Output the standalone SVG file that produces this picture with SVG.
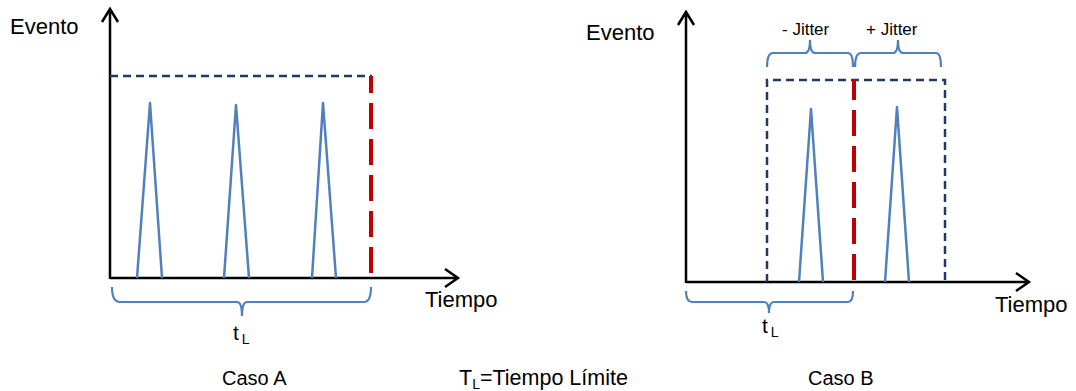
<svg xmlns="http://www.w3.org/2000/svg" width="1076" height="391" viewBox="0 0 1076 391">
  <style>
    .axis { fill: none; stroke: #000; stroke-width: 2.5; stroke-linejoin: miter; }
    .limit { fill: none; stroke: #1F3864; stroke-width: 2.5; stroke-dasharray: 8 5; }
    .deadline { fill: none; stroke: #C00000; stroke-width: 4; stroke-dasharray: 26 10; }
    .pulse { fill: none; stroke: #4F81BD; stroke-width: 2.5; stroke-linejoin: round; }
    .brace { fill: none; stroke: #4F81BD; stroke-width: 2.2; }
    .lbl { font-family: "Liberation Sans", Arial, sans-serif; fill: #000; }
  </style>
  <rect width="1076" height="391" fill="#fff"/>

  <!-- Case A -->
  <g id="caseA">
    <g id="caseA-axes">
      <path class="axis" d="M110 279 V9 M102 22 L110 9 L118 22"/>
      <path class="axis" d="M110 278 H457 M445 269 L458 278 L445 287"/>
    </g>
    <g id="caseA-limit">
      <path class="limit" d="M110 76 H372"/>
      <path class="deadline" d="M371 76 V280" stroke-dashoffset="9"/>
    </g>
    <g id="caseA-pulses">
      <path class="pulse" d="M137 278 L150 103 L162 278"/>
      <path class="pulse" d="M224 278 L236 105 L249 278"/>
      <path class="pulse" d="M312 278 L323 103 L336 278"/>
    </g>
    <g id="caseA-brace">
      <path class="brace" d="M112 287 Q112 302 120 302 H237 Q242 302 242 316 Q242 302 247 302 H364 Q371 302 371 287"/>
      <text class="lbl" x="233" y="340" font-size="21">t<tspan font-size="14" dx="3" dy="4">L</tspan></text>
    </g>
    <text class="lbl" x="10" y="34" font-size="22">Evento</text>
    <text class="lbl" x="425" y="307" font-size="22">Tiempo</text>
    <text class="lbl" x="222" y="385" font-size="20">Caso A</text>
  </g>

  <!-- Legend -->
  <g id="legend">
    <text class="lbl" x="459" y="385" font-size="21.5">T<tspan font-size="14" dy="4">L</tspan><tspan dy="-4">=Tiempo Límite</tspan></text>
  </g>

  <!-- Case B -->
  <g id="caseB">
    <g id="caseB-axes">
      <path class="axis" d="M686 283 V12 M678 25 L686 12 L694 25"/>
      <path class="axis" d="M686 282 H1028 M1016 273 L1029 282 L1016 291"/>
    </g>
    <g id="caseB-window">
      <path class="limit" d="M767 282 V80 H945 V282"/>
      <path class="deadline" d="M854 80 V284" stroke-dashoffset="6"/>
    </g>
    <g id="caseB-pulses">
      <path class="pulse" d="M799 282 L811 109 L823 282"/>
      <path class="pulse" d="M885 282 L897 107 L909 282"/>
    </g>
    <g id="caseB-jitter">
      <path class="brace" d="M767 67 Q767 53 773 53 H805 Q810 53 810 40 Q810 53 815 53 H848 Q853 53 853 67"/>
      <path class="brace" d="M855 67 Q855 53 861 53 H893 Q898 53 898 40 Q898 53 903 53 H936 Q941 53 941 67"/>
      <text class="lbl" x="782" y="35" font-size="17">- Jitter</text>
      <text class="lbl" x="866" y="35" font-size="17">+ Jitter</text>
    </g>
    <g id="caseB-brace">
      <path class="brace" d="M686 291 Q686 302 692 302 H764 Q769 302 769 313 Q769 302 774 302 H848 Q853 302 853 291"/>
      <text class="lbl" x="762" y="333" font-size="21">t<tspan font-size="14" dx="3" dy="4">L</tspan></text>
    </g>
    <text class="lbl" x="586" y="40" font-size="22">Evento</text>
    <text class="lbl" x="995" y="312" font-size="22">Tiempo</text>
    <text class="lbl" x="808" y="385" font-size="20">Caso B</text>
  </g>
</svg>
